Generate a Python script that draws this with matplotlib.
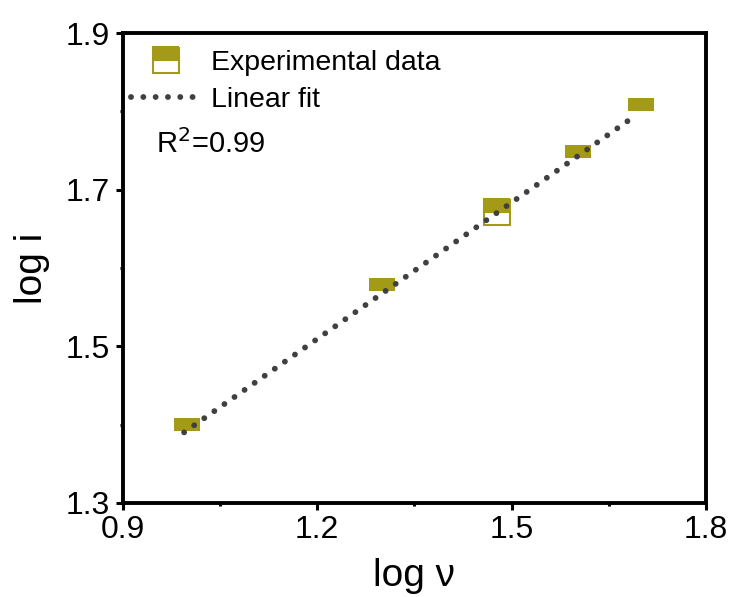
import numpy as np
import matplotlib
matplotlib.use("Agg")
import matplotlib.pyplot as plt
from matplotlib.ticker import FixedLocator

plt.rcParams['font.family'] = ['Liberation Sans', 'DejaVu Sans']

# log of scan rate vs log of peak current
log_v = [1.0, 1.301, 1.477, 1.602, 1.699]
log_i = [1.392, 1.570, 1.671, 1.740, 1.800]
x_ticks = [0.9, 1.2, 1.5, 1.8]
y_ticks = [1.3, 1.5, 1.7, 1.9]
r2_text = "R$^2$=0.99"

olive = '#a39b17'
grey = '#404040'

fig = plt.figure(figsize=(7.34, 5.97), dpi=100)
ax = fig.add_axes([0.1669, 0.1575, 0.795, 0.7872])

# linear fit through the points
slope, icpt = np.polyfit(log_v, log_i, 1)
xf = np.linspace(min(log_v) - 0.005, max(log_v) - 0.015, 50)
ax.plot(xf, slope * xf + icpt, color=grey, lw=4.2,
        linestyle=(0, (0.01, 2.1)), dash_capstyle='round', zorder=3,
        label='Linear fit')

# data squares, top half filled
ax.plot(log_v, log_i, 's', ms=19, fillstyle='top', color=olive,
        markerfacecoloralt='white', mew=0, zorder=2)
# the one at 1.48 shows its outline
ax.plot(log_v[2], log_i[2], 's', ms=18.3, fillstyle='top', color=olive,
        markerfacecoloralt='white', mec=olive, mew=1.5, zorder=2,
        label='Experimental data')

ax.set_xlim(0.9, 1.8)
ax.set_ylim(1.3, 1.9)
ax.xaxis.set_major_locator(FixedLocator(x_ticks))
ax.xaxis.set_minor_locator(FixedLocator([1.05, 1.35, 1.65]))
ax.yaxis.set_major_locator(FixedLocator(y_ticks))
ax.yaxis.set_minor_locator(FixedLocator([1.4, 1.6, 1.8]))
ax.tick_params(which='major', direction='out', length=5, width=2.2, labelsize=23, pad=4)
ax.tick_params(which='minor', direction='out', length=2.5, width=2.2)
for s in ax.spines.values():
    s.set_linewidth(2.8)

ax.set_xlabel('log ν', fontsize=28, labelpad=9)
ax.set_ylabel('log i', fontsize=28, labelpad=11)

handles, labels = ax.get_legend_handles_labels()
ax.legend(handles[::-1], labels[::-1], loc='upper left', frameon=False,
          fontsize=20.5, handlelength=2.42, handletextpad=0.39,
          labelspacing=0.37, borderaxespad=0.0, borderpad=0.2,
          bbox_to_anchor=(0.005, 0.975))

ax.text(0.057, 0.745, r2_text, transform=ax.transAxes, fontsize=21,
        va='baseline')

fig.savefig('out.png', dpi=100)
